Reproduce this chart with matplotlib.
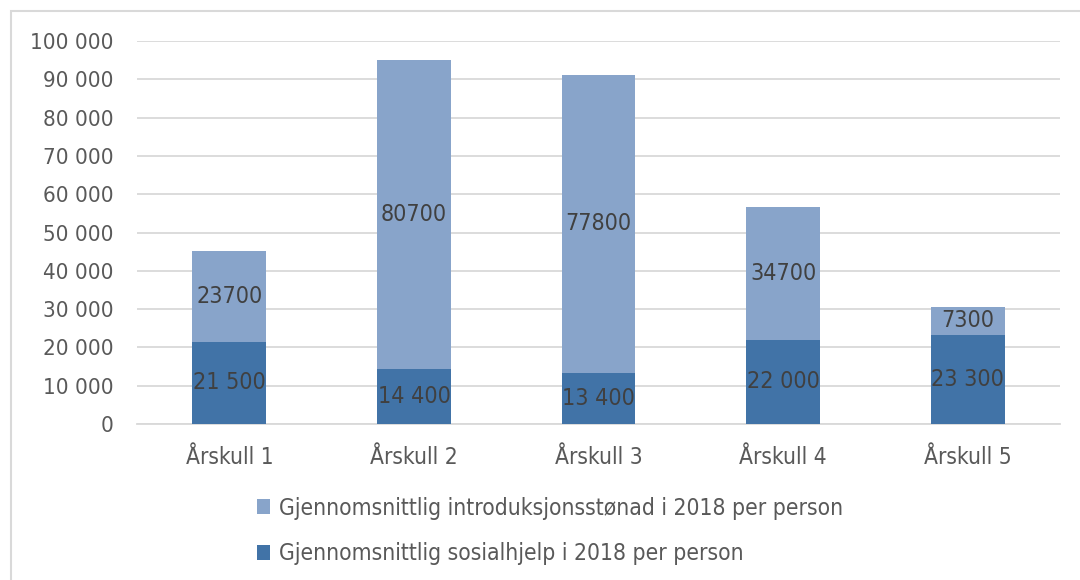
import matplotlib
matplotlib.use("Agg")
import matplotlib.pyplot as plt
from matplotlib.patches import Rectangle
import numpy as np

plt.rcParams['font.family'] = ['DejaVu Sans']
plt.rcParams['font.stretch'] = 'condensed'

categories = ['Årskull 1', 'Årskull 2', 'Årskull 3', 'Årskull 4', 'Årskull 5']
sosialhjelp = [21500, 14400, 13400, 22000, 23300]
introduksjon = [23700, 80700, 77800, 34700, 7300]
series_names = ['Gjennomsnittlig introduksjonsstønad i 2018 per person',
                'Gjennomsnittlig sosialhjelp i 2018 per person']

dark = '#4173a7'
light = '#88a4ca'
grid_c = '#d9d9d9'
tick_c = '#595959'
lab_c = '#404040'

fig = plt.figure(figsize=(10.8, 5.8), dpi=100)
ax = fig.add_axes([0.1269, 0.269, 0.8546, 0.66])

x = np.arange(len(categories))
b1 = ax.bar(x, sosialhjelp, width=0.4, color=dark, label=series_names[1], zorder=3)
b2 = ax.bar(x, introduksjon, width=0.4, bottom=sosialhjelp, color=light,
            label=series_names[0], zorder=3)

def space_fmt(v):
    return f'{v:,}'.replace(',', ' ')

ax.bar_label(b1, labels=[space_fmt(v) for v in sosialhjelp], label_type='center',
             fontsize=16.7, color=lab_c)
ax.bar_label(b2, labels=[str(v) for v in introduksjon], label_type='center',
             fontsize=16.7, color=lab_c)

ax.set_xlim(-0.5, 4.5)
ax.set_ylim(0, 100000)
ax.set_yticks(np.arange(0, 100001, 10000))
ax.set_yticklabels([space_fmt(v) for v in range(0, 100001, 10000)])
ax.set_xticks(x)
ax.set_xticklabels(categories)
ax.tick_params(axis='y', length=0, pad=17, labelsize=16, labelcolor=tick_c)
ax.tick_params(axis='x', length=0, pad=16, labelsize=16.3, labelcolor=tick_c)
ax.grid(axis='y', color=grid_c, linewidth=1.3, zorder=0)
for s in ['left', 'right', 'top']:
    ax.spines[s].set_visible(False)
ax.spines['bottom'].set_color(grid_c)
ax.spines['bottom'].set_linewidth(1.3)

handles = [b2, b1]
fig.legend(handles, series_names, loc='center left', bbox_to_anchor=(0.227, 0.0845),
           frameon=False, fontsize=16.4, labelcolor=tick_c, handlelength=0.6,
           handleheight=0.6, handletextpad=0.4, labelspacing=1.0, borderpad=0)

fig.add_artist(Rectangle((11 / 1080, -0.1), 1.2, 1 - 11 / 580 + 0.1,
                         transform=fig.transFigure, fill=False,
                         edgecolor='#d9d9d9', linewidth=1.5))

fig.savefig('out.png', dpi=100)
